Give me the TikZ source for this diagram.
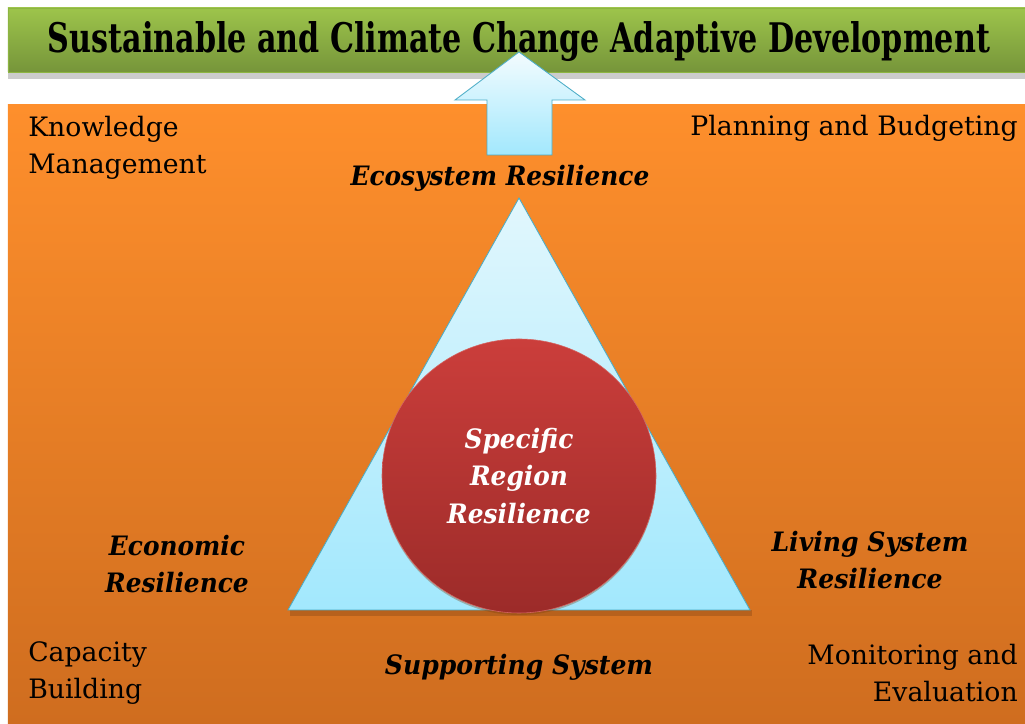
\documentclass[tikz,border=0pt]{standalone}
\usepackage{fontspec}
\setmainfont{DejaVu Serif}
\usepackage{tikz}
\usetikzlibrary{calc,positioning}
\definecolor{leafTop}{HTML}{9DC44B}
\definecolor{leafBot}{HTML}{76953A}
\definecolor{leafLine}{HTML}{8DB542}
\definecolor{sunTop}{HTML}{FE8F2C}
\definecolor{sunBot}{HTML}{CF6D1F}
\definecolor{skyTop}{HTML}{E2F7FD}
\definecolor{skyBot}{HTML}{A2E8FD}
\definecolor{skyLine}{HTML}{4AACC6}
\definecolor{coreTop}{HTML}{CB3E3B}
\definecolor{coreBot}{HTML}{9C2B29}
\tikzset{
  plain/.style={font=\fontsize{19}{26.5}\selectfont, inner sep=0pt},
  pillar/.style={font=\fontsize{19}{26.5}\selectfont\bfseries\itshape, inner sep=0pt, align=center},
}
\newcommand{\narrow}[2]{\scalebox{#1}[1]{#2}}

\begin{document}
\begin{tikzpicture}
        \useasboundingbox (0,0) rectangle (25.625,18.1);
        % background panels
        \fill[black!20] (0.2,16.125) rectangle (25.625,16.3);
        \draw[leafLine, top color=leafTop, bottom color=leafBot] (0.2,16.3) rectangle (25.625,17.9);
        \fill[top color=sunTop, bottom color=sunBot] (0.2,0) rectangle (25.625,15.475);
        % arrow up to the goal
        \draw[skyLine, semithick, top color=white!60!skyTop, bottom color=skyBot]
          (12.175,14.225) -- (12.175,15.6) -- (11.375,15.6) -- (12.975,16.8)
          -- (14.625,15.6) -- (13.8,15.6) -- (13.8,14.225) -- cycle;
        \node[font=\fontsize{29}{34}\selectfont\bfseries, inner sep=0pt] (goal) at (12.975,17.05)
          {\narrow{0.74}{Sustainable and Climate Change Adaptive Development}};
        % the triangle
        \coordinate (apex) at (12.975,13.15);
        \coordinate (left) at (7.2,2.85);
        \coordinate (right) at (18.75,2.85);
        \fill[black!30!sunBot, opacity=0.45] ($(left)+(0.05,-0.15)$) -- ($(right)+(0.05,-0.15)$) -- ($(right)+(0.05,0)$) -- ($(left)+(0.05,0)$) -- cycle;
        \draw[skyLine, semithick, top color=skyTop, bottom color=skyBot] (apex) -- (right) -- (left) -- cycle;
        \fill[black!40!sunBot, opacity=0.35] (12.975,6.15) circle (3.425);
        \node[circle, minimum size=6.85cm, inner sep=0pt, draw=coreTop!80!white, top color=coreTop, bottom color=coreBot] (core) at (12.975,6.2) {};
        \node[pillar, text=white] (region) at (core) {\narrow{0.93}{Specific}\\\narrow{0.93}{Region}\\\narrow{0.93}{Resilience}};
        % the pillars
        \node[pillar] (eco) at (12.5,13.65) {\narrow{0.93}{Ecosystem Resilience}};
        \node[pillar] (econ) at (4.425,4.0) {\narrow{0.93}{Economic}\\\narrow{0.93}{Resilience}};
        \node[pillar] (living) at (21.75,4.1) {\narrow{0.94}{Living System}\\\narrow{0.94}{Resilience}};
        \node[pillar] (support) at (12.975,1.425) {\narrow{0.94}{Supporting System}};
        % the corners
        \node[plain, anchor=west, align=left] (know) at (0.7,14.4) {Knowledge\\Management};
        \node[plain, anchor=east] (plan) at (25.45,14.9) {Planning and Budgeting};
        \node[plain, anchor=west, align=left] (capa) at (0.7,1.275) {Capacity\\Building};
        \node[plain, anchor=east, align=right] (moni) at (25.45,1.275) {Monitoring and\\Evaluation};
      \end{tikzpicture}
\end{document}
